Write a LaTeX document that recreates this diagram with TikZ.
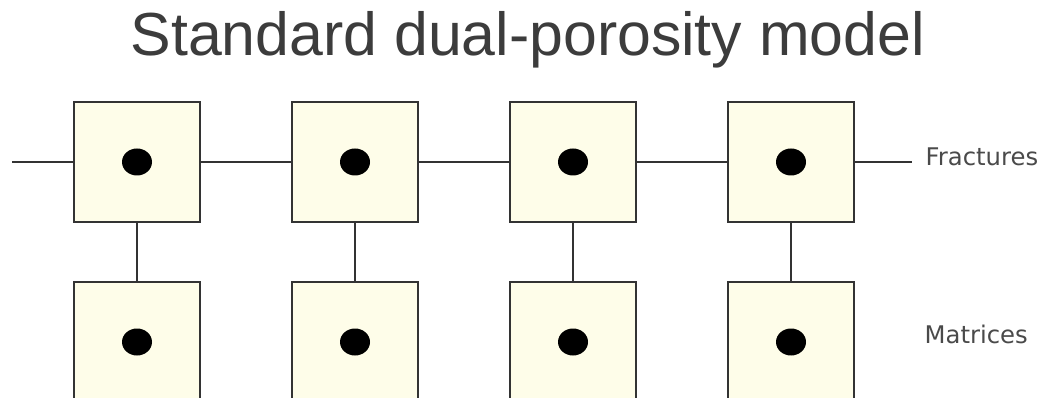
\documentclass[tikz,border=0pt]{standalone}
\usepackage{fontspec}
\setmainfont{Liberation Sans}
\newfontfamily\labelfont{DejaVu Sans}
\definecolor{boxfill}{HTML}{FEFDE9}
\definecolor{boxline}{HTML}{333333}
\definecolor{titlegray}{HTML}{3C3C3C}
\definecolor{labelgray}{HTML}{4A4A4A}
\tikzset{
  cell/.style={draw=boxline, line width=2.2pt, fill=boxfill, rectangle,
    minimum width=126pt, minimum height=120pt, inner sep=0pt},
  link/.style={draw=boxline, line width=1.9pt},
  dotmark/.style={fill=black},
  sidelabel/.style={anchor=base west, inner sep=0pt, text=labelgray,
    font=\labelfont\fontsize{24.3}{28}\selectfont}
}
\begin{document}
\begin{tikzpicture}[x=1pt,y=-1pt]
\useasboundingbox (0,0) rectangle (1050,398);
\fill[white] (0,0) rectangle (1050,398);
\node[anchor=base west, inner sep=0pt, text=titlegray,
  font=\fontsize{60.8}{66}\selectfont] (title) at (130.5,55.5) {Standard dual-porosity model};
\foreach \i/\x in {1/137,2/355,3/573,4/791}{
  \node[cell] (f\i) at (\x,162) {};
  \node[cell] (m\i) at (\x,342) {};
}
\coordinate (lstart) at (12,162);
\coordinate (rend) at (912,162);
\draw[link] (lstart) -- (f1.west);
\draw[link] (f1.east) -- (f2.west);
\draw[link] (f2.east) -- (f3.west);
\draw[link] (f3.east) -- (f4.west);
\draw[link] (f4.east) -- (rend);
\foreach \i in {1,...,4}{
  \draw[link] (f\i.south) -- (m\i.north);
  \fill[dotmark] (f\i.center) ellipse[x radius=15pt, y radius=13.5pt];
  \fill[dotmark] (m\i.center) ellipse[x radius=15pt, y radius=13.5pt];
}
\node[sidelabel] (fr) at (925.5,166) {Fractures};
\node[sidelabel] (ma) at (924.5,343) {Matrices};
\end{tikzpicture}
\end{document}
